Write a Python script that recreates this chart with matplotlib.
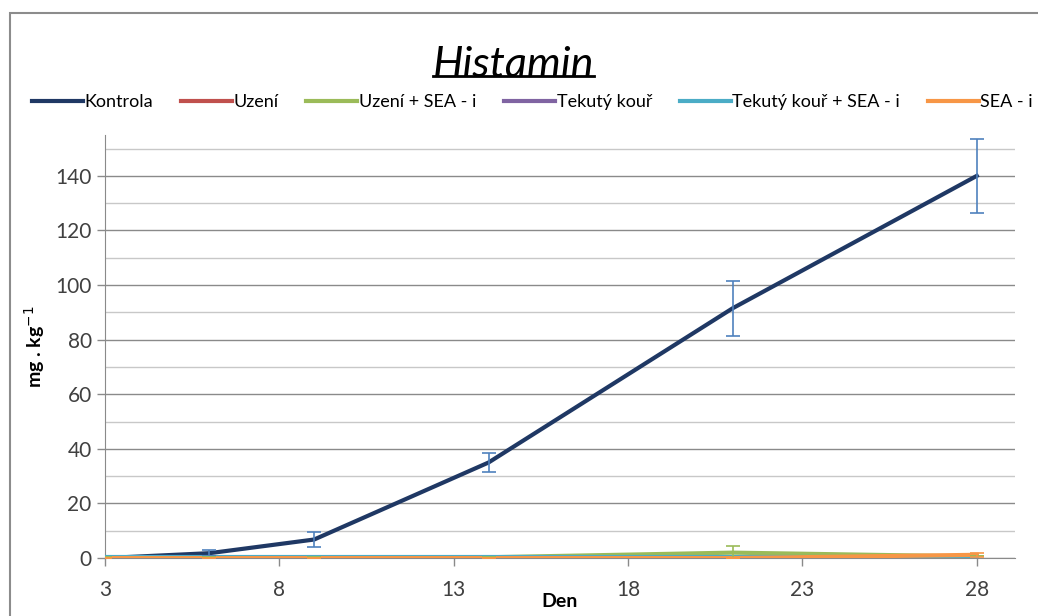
import matplotlib.pyplot as plt
from matplotlib.patches import Rectangle
from matplotlib.lines import Line2D
from matplotlib.ticker import MultipleLocator

plt.rcParams['font.family'] = ['Lato', 'DejaVu Sans']

# data
days = [3, 6, 9, 14, 21, 28]
kontrola = [0, 1.8, 6.8, 35, 91.5, 140]
kontrola_err = [0, 1.0, 2.8, 3.5, 10, 13.5]
uzeni = [0, 0, 0, 0, 0, 0]
uzeni_sea = [0.3, 0.3, 0.3, 0.3, 2.0, 0.6]
uzeni_sea_err = [0, 0, 0, 0, 2.3, 0]
tekuty = [0, 0, 0, 0, 0, 0]
tekuty_sea = [0.3, 0.3, 0.3, 0.3, 0.3, 0.3]
sea = [0, 0, 0, 0, 0, 1.2]
sea_err = [0, 0, 0, 0, 0, 0.8]

series = [
    ('Kontrola', kontrola, kontrola_err, '#1F3864', '#4F81BD'),
    ('Uzení', uzeni, None, '#C0504D', None),
    ('Uzení + SEA - i', uzeni_sea, uzeni_sea_err, '#9BBB59', '#9BBB59'),
    ('Tekutý kouř', tekuty, None, '#8064A2', None),
    ('Tekutý kouř + SEA - i', tekuty_sea, None, '#4BACC6', None),
    ('SEA - i', sea, sea_err, '#F79646', '#F79646'),
]

fig = plt.figure(figsize=(10.38, 6.16), dpi=100)
ax = fig.add_axes([0.101, 0.094, 0.877, 0.687])

# outer chart border
fig.patches.append(Rectangle((10 / 1038, -0.1), 1.2, 1 - 13 / 616 + 0.1,
                             transform=fig.transFigure, fill=False,
                             edgecolor='#8c8c8c', lw=1.5))

handles = []
for name, vals, err, col, ecol in series:
    ax.plot(days, vals, color=col, lw=3, zorder=3)
    if err is not None:
        ax.errorbar(days, vals, yerr=err, fmt='none', ecolor=ecol, elinewidth=1.2,
                    capsize=5, capthick=1.2, zorder=4)
    handles.append(Line2D([0], [0], color=col, lw=3))

ax.set_xlim(3, 29.1)
ax.set_ylim(0, 155)
ax.set_xticks([3, 8, 13, 18, 23, 28])
ax.yaxis.set_major_locator(MultipleLocator(20))
ax.yaxis.set_minor_locator(MultipleLocator(10))
ax.grid(which='major', axis='y', color='#8a8a8a', lw=1)
ax.grid(which='minor', axis='y', color='#c8c8c8', lw=1)
ax.set_axisbelow(True)
for s in ['top', 'right']:
    ax.spines[s].set_visible(False)
for s in ['left', 'bottom']:
    ax.spines[s].set_color('#8a8a8a')
ax.tick_params(axis='both', which='major', labelsize=15, colors='#8a8a8a',
               labelcolor='#404040', length=6, width=1)
ax.tick_params(axis='y', which='minor', length=0)
ax.tick_params(axis='x', pad=10)

ax.set_xlabel('Den', fontsize=14, fontweight='bold', labelpad=-5)
ax.set_ylabel('mg . kg$^{-1}$', fontsize=14, fontweight='bold', labelpad=6)

title = fig.text(0.495, 0.895, 'Histamin', fontsize=31, style='italic',
                 ha='center', va='center')
fig.canvas.draw()
bb = title.get_window_extent().transformed(fig.transFigure.inverted())
fig.add_artist(Line2D([bb.x0, bb.x1], [1 - 76 / 616] * 2,
                      color='black', lw=2, transform=fig.transFigure))

fig.legend(handles, [s[0] for s in series], loc='center left', ncol=6,
           bbox_to_anchor=(32 / 1038, 1 - 102 / 616), frameon=False, fontsize=13,
           handlelength=2.8, handletextpad=0.1, columnspacing=1.55,
           borderaxespad=0, borderpad=0)

fig.savefig('out.png', dpi=100)
